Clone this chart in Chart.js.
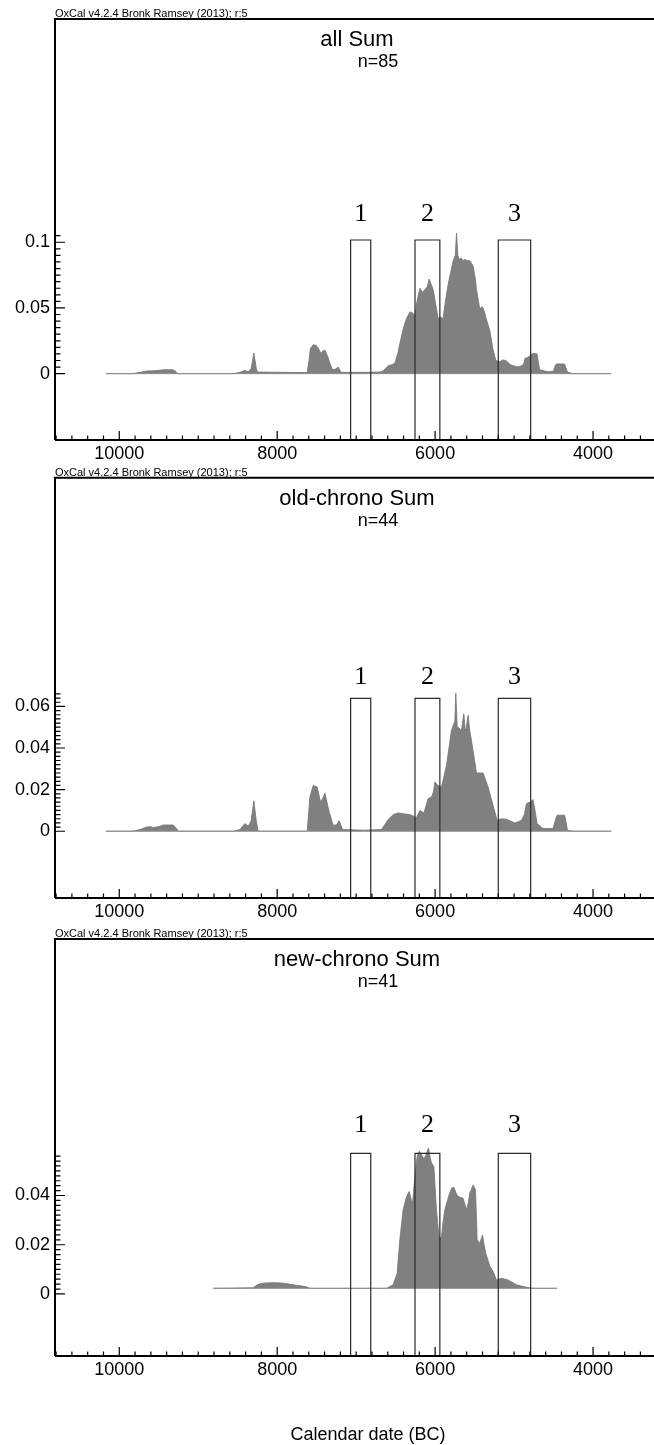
<!DOCTYPE html>
<html>
<head>
<meta charset="utf-8">
<script src="https://cdn.jsdelivr.net/npm/chart.js@4.4.1/dist/chart.umd.min.js"></script>
<style>
    html, body { margin: 0; padding: 0; background: #fff; overflow: hidden; }
    #wrap { position: relative; width: 654px; height: 1445px; }
    canvas { position: absolute; left: 0; }
</style>
</head>
<body>
<div id="wrap">
    <canvas id="c1"></canvas>
    <canvas id="c2"></canvas>
    <canvas id="c3"></canvas>
</div>
<script>
// ---- data ----
const header = "OxCal v4.2.4 Bronk Ramsey (2013); r:5";
const titles = ["all Sum", "old-chrono Sum", "new-chrono Sum"];
const counts = ["n=85", "n=44", "n=41"];
const axisTitle = "Calendar date (BC)";

const xTickYears = [10000, 8000, 6000, 4000];

const boxLabels = ["1", "2", "3"];
const boxFrom = [7070, 6255, 5200];
const boxTo = [6815, 5940, 4790];
const boxTops = [0.1017, 0.0639, 0.0571];

const yTicks1 = [0, 0.05, 0.1];
const yTicks2 = [0, 0.02, 0.04, 0.06];
const yTicks3 = [0, 0.02, 0.04];
const yLabels1 = ["0", "0.05", "0.1"];
const yLabels2 = ["0", "0.02", "0.04", "0.06"];
const yLabels3 = ["0", "0.02", "0.04"];

// all Sum
const allYears = [10170, 9830, 9740, 9650, 9570, 9500, 9440, 9320, 9280, 9260,
    8560, 8470, 8410, 8370, 8330, 8295, 8265, 8250, 7620, 7600, 7580, 7545, 7505,
    7475, 7450, 7425, 7396, 7360, 7333, 7300, 7260, 7228, 7190, 6900, 6700, 6660,
    6595, 6540, 6510, 6470, 6447, 6400, 6362, 6320, 6280, 6257, 6230, 6193, 6160,
    6130, 6100, 6076, 6050, 6025, 5990, 5962, 5930, 5899, 5870, 5835, 5800, 5772,
    5745, 5729, 5712, 5696, 5670, 5645, 5624, 5595, 5561, 5519, 5490, 5476, 5434,
    5410, 5392, 5370, 5349, 5308, 5265, 5230, 5181, 5140, 5097, 5050, 5012, 4960,
    4928, 4880, 4860, 4843, 4800, 4759, 4709, 4690, 4675, 4600, 4548, 4500, 4480,
    4464, 4380, 4359, 4330, 4317, 4253, 3770];
const allProb = [0, 0, 0.001, 0.002, 0.0022, 0.0025, 0.003, 0.003, 0.0015, 0,
    0, 0.001, 0.0025, 0.0012, 0.004, 0.0156, 0.004, 0.0012, 0.0008, 0.009, 0.019, 0.022, 0.0214,
    0.019, 0.0156, 0.017, 0.018, 0.013, 0.008, 0.003, 0.0035, 0.005, 0.001, 0.001, 0.0012, 0.002,
    0.006, 0.007, 0.008, 0.016, 0.023, 0.035, 0.042, 0.047, 0.046, 0.044, 0.055, 0.065, 0.062,
    0.064, 0.066, 0.072, 0.068, 0.064, 0.052, 0.042, 0.043, 0.042, 0.055, 0.068, 0.078, 0.086,
    0.09, 0.107, 0.09, 0.087, 0.088, 0.086, 0.087, 0.086, 0.086, 0.082, 0.072, 0.064, 0.049,
    0.051, 0.05, 0.046, 0.041, 0.033, 0.018, 0.01, 0.009, 0.0105, 0.0097, 0.007, 0.006, 0.0052,
    0.0054, 0.007, 0.012, 0.012, 0.0135, 0.0156, 0.015, 0.008, 0.003, 0.0018, 0.0015, 0.002, 0.006,
    0.0074, 0.0074, 0.0072, 0.002, 0.001, 0, 0];

// old-chrono Sum
const oldYears = [10170, 9830, 9737, 9653, 9610, 9570, 9500, 9443, 9316, 9280, 9253,
    8557, 8472, 8409, 8367, 8330, 8295, 8265, 8241, 7620, 7586, 7544, 7494, 7451,
    7420, 7396, 7342, 7291, 7250, 7215, 7172, 6900, 6680, 6640, 6595, 6530, 6468,
    6400, 6320, 6236, 6193, 6142, 6088, 6046, 6020, 6004, 5962, 5919, 5856, 5793,
    5750, 5738, 5720, 5709, 5666, 5637, 5620, 5611, 5582, 5560, 5540, 5500, 5476,
    5392, 5329, 5274, 5215, 5160, 5097, 5040, 4991, 4950, 4906, 4870, 4843, 4800,
    4759, 4730, 4709, 4633, 4506, 4480, 4456, 4359, 4335, 4324, 4253, 3767];
const oldProb = [0, 0, 0.0008, 0.002, 0.0022, 0.0018, 0.0022, 0.003, 0.003, 0.0015, 0,
    0, 0.0008, 0.0037, 0.0024, 0.005, 0.0146, 0.005, 0, 0, 0.0165, 0.022, 0.0213, 0.0141,
    0.016, 0.0184, 0.0093, 0.0029, 0.003, 0.005, 0.0008, 0.0005, 0.0008, 0.003, 0.0056, 0.008, 0.0088,
    0.0084, 0.008, 0.0066, 0.01, 0.0088, 0.0157, 0.0165, 0.019, 0.0237, 0.022, 0.0213, 0.0317, 0.0485,
    0.053, 0.0664, 0.05, 0.05, 0.0485, 0.0565, 0.049, 0.0485, 0.0557, 0.048, 0.0437, 0.034, 0.028,
    0.028, 0.0213, 0.0136, 0.0053, 0.006, 0.0058, 0.0048, 0.004, 0.0045, 0.0053, 0.008, 0.0133, 0.014,
    0.0152, 0.009, 0.0037, 0.0013, 0.0013, 0.005, 0.0077, 0.0077, 0.003, 0.0005, 0, 0];

// new-chrono Sum (its zero line sits a little above the 0 tick)
const newYears = [8810, 8304, 8250, 8180, 8050, 7950, 7850, 7750, 7640, 7586,
    6615, 6532, 6481, 6447, 6405, 6362, 6329, 6300, 6286, 6257, 6228, 6200, 6185,
    6160, 6143, 6117, 6100, 6084, 6060, 6046, 6016, 5983, 5949, 5919, 5900, 5877,
    5823, 5790, 5763, 5735, 5709, 5646, 5603, 5580, 5561, 5519, 5489, 5475, 5468,
    5434, 5400, 5380, 5358, 5308, 5265, 5223, 5160, 5076, 4970, 4843, 4759, 4456];
const newProb = [0.0023, 0.0025, 0.0038, 0.0044, 0.0046, 0.0045, 0.004, 0.0035, 0.003, 0.0023,
    0.0023, 0.0037, 0.0084, 0.022, 0.0342, 0.0396, 0.0416, 0.038, 0.0369, 0.0477, 0.0559, 0.058, 0.0572,
    0.056, 0.0548, 0.0565, 0.058, 0.0593, 0.055, 0.0532, 0.0518, 0.0342, 0.0226, 0.0233, 0.029, 0.0342,
    0.0403, 0.043, 0.0434, 0.041, 0.0396, 0.0389, 0.0342, 0.037, 0.041, 0.0443, 0.0423, 0.03, 0.022,
    0.0206, 0.024, 0.02, 0.0165, 0.0114, 0.0091, 0.0057, 0.0064, 0.0057, 0.0037, 0.0027, 0.0023, 0.0023];

const baseFrom = [10170, 10170, 8810];
const baseTo = [3770, 3767, 4456];
const baseLevel = [0, 0, 0.0023];

// ---- drawing ----
const SANS = "'Liberation Sans', Arial, sans-serif";
const SERIF = "'Liberation Serif', 'Times New Roman', serif";

const panels = [
    { id: "c1", top: 0, height: 462, padTop: 19, padBottom: 0, yMin: -0.0505, yMax: 0.2699,
      years: allYears, prob: allProb, ticks: yTicks1, labels: yLabels1, minorStep: 0.005, minorCount: 21, labelGap: 26 },
    { id: "c2", top: 462, height: 458, padTop: 14, padBottom: 0, yMin: -0.0321, yMax: 0.1699,
      years: oldYears, prob: oldProb, ticks: yTicks2, labels: yLabels2, minorStep: 0.002, minorCount: 33, labelGap: 21 },
    { id: "c3", top: 920, height: 525, padTop: 19, padBottom: 67, yMin: -0.0252, yMax: 0.1442,
      years: newYears, prob: newProb, ticks: yTicks3, labels: yLabels3, minorStep: 0.002, minorCount: 28, labelGap: 28 }
];

function decor(p, idx) {
    return {
        id: "decor",
        afterDatasetsDraw(chart) {
            const { ctx, chartArea: a, scales: { x, y } } = chart;
            ctx.save();
            ctx.strokeStyle = "#000";
            ctx.lineWidth = 1.2;
            ctx.beginPath();
            // inward ticks on the date axis, every 200 years
            for (let yr = 3400; yr <= 10800; yr += 200) {
                const px = x.getPixelForValue(yr);
                const len = yr % 2000 === 0 ? 9 : 4.5;
                ctx.moveTo(px, a.bottom);
                ctx.lineTo(px, a.bottom - len);
            }
            // inward ticks on the probability axis
            for (let i = 0; i <= p.minorCount; i++) {
                const py = y.getPixelForValue(i * p.minorStep);
                const len = i % 10 === 0 ? 10 : 5.5;
                ctx.moveTo(a.left, py);
                ctx.lineTo(a.left + len, py);
            }
            ctx.stroke();

            // frame
            ctx.lineWidth = 2;
            ctx.beginPath();
            ctx.moveTo(a.left, a.bottom);
            ctx.lineTo(a.left, a.top);
            ctx.lineTo(a.right, a.top);
            ctx.moveTo(a.left, a.bottom);
            ctx.lineTo(a.right, a.bottom);
            ctx.stroke();

            // texts
            ctx.fillStyle = "#000";
            ctx.textBaseline = "middle";
            ctx.textAlign = "left";
            ctx.font = "11px " + SANS;
            ctx.fillText(header, a.left, a.top - 5);

            ctx.textAlign = "center";
            ctx.font = "22px " + SANS;
            ctx.fillText(titles[idx], 357, a.top + 21);
            ctx.font = "18px " + SANS;
            ctx.fillText(counts[idx], 378, a.top + 43.5);

            ctx.font = "26px " + SERIF;
            boxLabels.forEach((lab, i) => {
                const cx = (x.getPixelForValue(boxFrom[i]) + x.getPixelForValue(boxTo[i])) / 2;
                ctx.fillText(lab, cx, y.getPixelForValue(boxTops[idx]) - p.labelGap);
            });

            if (idx === 2) {
                ctx.font = "18px " + SANS;
                ctx.fillText(axisTitle, 368, 1435 - p.top);
            }
            ctx.restore();
        }
    };
}

function makePanel(p, idx) {
    const cv = document.getElementById(p.id);
    cv.width = 654;
    cv.height = p.height;
    cv.style.top = p.top + "px";

    const area = p.years.map((yr, i) => ({ x: yr, y: p.prob[i] }));
    const base = [{ x: baseFrom[idx], y: baseLevel[idx] }, { x: baseTo[idx], y: baseLevel[idx] }];
    const boxes = boxFrom.map((f, i) => ({
        data: [
            { x: f, y: p.yMin }, { x: f, y: boxTops[idx] },
            { x: boxTo[i], y: boxTops[idx] }, { x: boxTo[i], y: p.yMin }
        ],
        borderColor: "#2a2a2a",
        borderWidth: 1.2,
        pointRadius: 0,
        fill: false,
        order: 0
    }));

    new Chart(cv, {
        type: "line",
        data: {
            datasets: [
                ...boxes,
                { data: base, borderColor: "#8c8c8c", borderWidth: 1, pointRadius: 0, fill: false, order: 1 },
                { data: area, fill: { value: baseLevel[idx] }, backgroundColor: "rgb(128,128,128)",
                  borderColor: "rgb(115,115,115)", borderWidth: 0.8, pointRadius: 0, tension: 0, order: 2 }
            ]
        },
        options: {
            responsive: false,
            animation: false,
            events: [],
            layout: { padding: { top: p.padTop, bottom: p.padBottom, left: 0, right: 0 } },
            plugins: { legend: { display: false }, tooltip: { enabled: false } },
            scales: {
                x: {
                    type: "linear",
                    min: 3228,
                    max: 10814,
                    reverse: true,
                    grid: { display: false, drawTicks: false },
                    border: { display: false },
                    ticks: {
                        color: "#000",
                        font: { family: SANS, size: 18 },
                        padding: 3,
                        autoSkip: false,
                        maxRotation: 0,
                        callback: v => String(v)
                    },
                    afterBuildTicks: s => { s.ticks = xTickYears.map(v => ({ value: v })); },
                    afterFit: s => { s.height = 22; }
                },
                y: {
                    min: p.yMin,
                    max: p.yMax,
                    grid: { display: false, drawTicks: false },
                    border: { display: false },
                    ticks: {
                        color: "#000",
                        font: { family: SANS, size: 18 },
                        padding: 5,
                        autoSkip: false,
                        callback: (v, i) => p.labels[i]
                    },
                    afterBuildTicks: s => { s.ticks = p.ticks.map(v => ({ value: v })); },
                    afterFit: s => { s.width = 55; }
                }
            }
        },
        plugins: [decor(p, idx)]
    });
}

panels.forEach(makePanel);
</script>
</body>
</html>
